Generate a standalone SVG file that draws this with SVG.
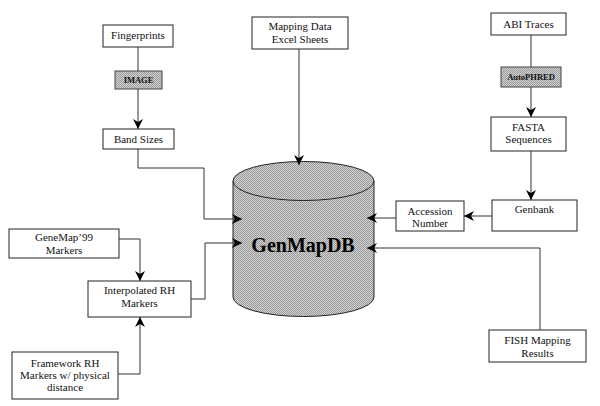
<svg xmlns="http://www.w3.org/2000/svg" width="600" height="406" viewBox="0 0 600 406" font-family="'Liberation Serif', 'Times New Roman', serif">
<defs>
<marker id="ah" markerUnits="userSpaceOnUse" markerWidth="10" markerHeight="10" viewBox="0 0 10 10" refX="10" refY="5" orient="auto">
<path d="M0,0 L10,5 L0,10 L3,5 Z" fill="#000"/>
</marker>
<pattern id="stip" width="2" height="2" patternUnits="userSpaceOnUse">
<rect width="2" height="2" fill="#d2d2d2"/>
<rect width="1" height="1" fill="#999"/>
<rect x="1" y="1" width="1" height="1" fill="#999"/>
</pattern>
</defs>
<style>
text{font-family:'Liberation Serif','Times New Roman',serif}
.box{fill:#fff;stroke:#222;stroke-width:1}
.proc{fill:url(#stip);stroke:#444;stroke-width:1}
.t{font-size:11px;text-anchor:middle;fill:#111}
.pt{font-size:8.5px;font-weight:bold;text-anchor:middle;fill:#111}
.big{font-size:20px;font-weight:bold;text-anchor:middle;fill:#000}
.c{fill:none;stroke:#333;stroke-width:1;marker-end:url(#ah)}
</style>
<rect width="600" height="406" fill="#fff"/>

<g id="genmapdb">
<path d="M233,181 V297 A70.5,19.5 0 0 0 374,297 V181 Z" fill="url(#stip)" stroke="#222"/>
<ellipse cx="303.5" cy="181" rx="70.5" ry="19.5" fill="url(#stip)" stroke="#222"/>
<text class="big" x="303" y="252">GenMapDB</text>
</g>

<g id="fingerprints">
<rect class="box" x="103" y="25" width="70" height="22"/>
<text class="t" x="138" y="38.5">Fingerprints</text>
</g>
<g id="image">
<rect class="proc" x="115" y="71" width="47" height="18"/>
<text class="pt" x="138.5" y="83">IMAGE</text>
</g>
<g id="band-sizes">
<rect class="box" x="103" y="129" width="71" height="20"/>
<text class="t" x="138.5" y="142.5">Band Sizes</text>
</g>
<g id="mapping-data">
<rect class="box" x="252" y="17" width="96" height="32"/>
<text class="t" x="300" y="30">Mapping Data</text>
<text class="t" x="300" y="43">Excel Sheets</text>
</g>
<g id="abi-traces">
<rect class="box" x="491" y="13" width="75" height="22"/>
<text class="t" x="528.5" y="27.5">ABI Traces</text>
</g>
<g id="autophred">
<rect class="proc" x="501" y="67" width="60" height="20"/>
<text class="pt" x="531" y="80">AutoPHRED</text>
</g>
<g id="fasta">
<rect class="box" x="491" y="117" width="75" height="34"/>
<text class="t" x="528.5" y="131">FASTA</text>
<text class="t" x="528.5" y="143">Sequences</text>
</g>
<g id="genbank">
<rect class="box" x="492" y="200" width="85" height="31"/>
<text class="t" x="534.5" y="213">Genbank</text>
</g>
<g id="accession">
<rect class="box" x="396" y="201" width="68" height="30"/>
<text class="t" x="430" y="214.5">Accession</text>
<text class="t" x="430" y="227">Number</text>
</g>
<g id="fish">
<rect class="box" x="489" y="330" width="97" height="32"/>
<text class="t" x="537.5" y="344">FISH Mapping</text>
<text class="t" x="537.5" y="357">Results</text>
</g>
<g id="genemap99">
<rect class="box" x="9" y="229" width="110" height="29"/>
<text class="t" x="64" y="241">GeneMap’99</text>
<text class="t" x="64" y="253.5">Markers</text>
</g>
<g id="interpolated">
<rect class="box" x="88" y="281" width="103" height="36"/>
<text class="t" x="139.5" y="294">Interpolated RH</text>
<text class="t" x="139.5" y="307">Markers</text>
</g>
<g id="framework">
<rect class="box" x="12" y="352" width="106" height="47"/>
<text class="t" x="65" y="366.5">Framework RH</text>
<text class="t" x="65" y="378.5">Markers w/ physical</text>
<text class="t" x="65" y="390.5">distance</text>
</g>

<g id="connectors">
<line x1="138" y1="47" x2="138" y2="71" stroke="#333"/>
<path class="c" d="M138,89 V129"/>
<path class="c" d="M138,149 V168 H204 V219 H242"/>
<path class="c" d="M299,49 V165"/>
<line x1="531" y1="35" x2="531" y2="67" stroke="#333"/>
<path class="c" d="M531,87 V117"/>
<path class="c" d="M531,151 V200"/>
<path class="c" d="M492,216 H464"/>
<path class="c" d="M396,218 H367"/>
<path class="c" d="M540,330 V248 H367"/>
<path class="c" d="M119,239 H140 V281"/>
<path class="c" d="M118,374 H140 V317"/>
<path class="c" d="M191,299 H205 V243 H242"/>
</g>
</svg>
